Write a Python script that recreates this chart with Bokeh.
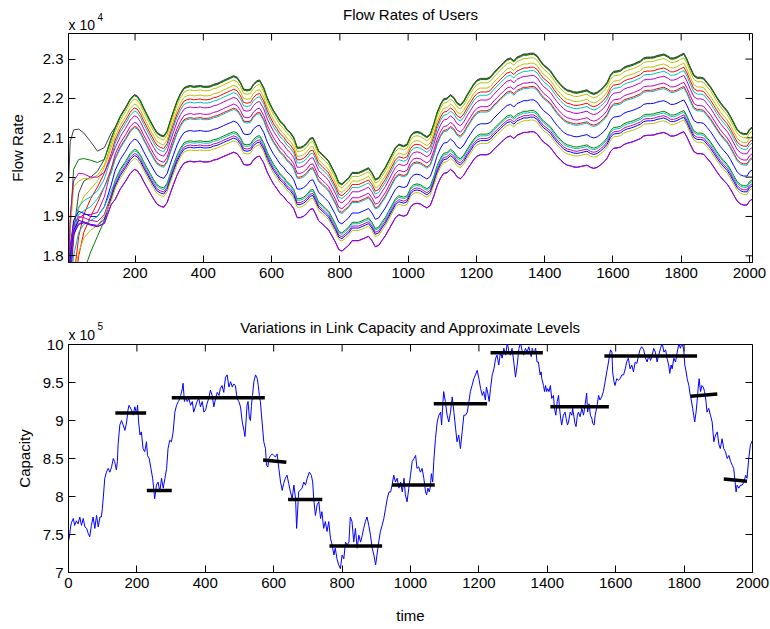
from bokeh.plotting import figure
from bokeh.layouts import column
from bokeh.models import Range1d, FixedTicker, Label, CustomJSTickFormatter
from bokeh.embed import file_html
from bokeh.resources import INLINE

FONT = "Liberation Sans"

# ---------------- Flow rates of users (units of 1e4) ----------------
# rate of the leading user once the start-up phase is over
profile_t = [
    142, 157, 172, 186, 198, 206, 216, 225, 235, 245,
    255, 264, 274, 284, 294, 303, 313, 323, 333, 343,
    352, 362, 372, 382, 391, 401, 411, 420, 430, 440,
    450, 459, 469, 479, 489, 499, 509, 518, 528, 538,
    547, 557, 565, 577, 587, 596, 606, 616, 625, 635,
    645, 655, 665, 675, 684, 694, 704, 713, 721, 728,
    738, 748, 758, 767, 777, 787, 797, 806, 816, 826,
    836, 845, 855, 865, 875, 884, 894, 904, 914, 923,
    933, 943, 953, 963, 973, 987, 997, 1007, 1016, 1026,
    1036, 1046, 1055, 1065, 1075, 1085, 1095, 1104, 1114, 1124,
    1134, 1143, 1153, 1163, 1173, 1183, 1192, 1202, 1212, 1222,
    1231, 1241, 1251, 1261, 1270, 1280, 1290, 1300, 1310, 1319,
    1329, 1339, 1349, 1358, 1368, 1378, 1388, 1397, 1407, 1417,
    1427, 1436, 1446, 1456, 1466, 1476, 1485, 1495, 1505, 1515,
    1524, 1534, 1544, 1554, 1563, 1573, 1583, 1593, 1602, 1612,
    1622, 1632, 1642, 1651, 1661, 1671, 1681, 1690, 1700, 1710,
    1720, 1729, 1739, 1749, 1759, 1769, 1778, 1788, 1798, 1808,
    1817, 1827, 1837, 1847, 1857, 1866, 1876, 1886, 1896, 1905,
    1915, 1925, 1935, 1944, 1954, 1964, 1974, 1983, 1993, 2000,
    2009,
]
profile_rate = [
    2.127, 2.156, 2.177, 2.199, 2.210, 2.207, 2.194, 2.177, 2.160, 2.143,
    2.127, 2.114, 2.108, 2.105, 2.118, 2.143, 2.169, 2.194, 2.213, 2.227,
    2.231, 2.233, 2.231, 2.232, 2.233, 2.231, 2.231, 2.232, 2.236, 2.238,
    2.242, 2.246, 2.250, 2.254, 2.258, 2.254, 2.241, 2.224, 2.222, 2.224,
    2.237, 2.245, 2.247, 2.228, 2.203, 2.186, 2.169, 2.156, 2.143, 2.135,
    2.122, 2.114, 2.101, 2.076, 2.076, 2.080, 2.088, 2.099, 2.101, 2.088,
    2.067, 2.059, 2.050, 2.042, 2.025, 2.008, 1.987, 1.983, 1.991, 1.999,
    2.012, 2.012, 2.012, 2.016, 2.020, 2.024, 2.012, 1.995, 1.999, 2.012,
    2.025, 2.042, 2.059, 2.076, 2.084, 2.080, 2.084, 2.105, 2.114, 2.116,
    2.114, 2.108, 2.103, 2.110, 2.135, 2.165, 2.186, 2.199, 2.201, 2.210,
    2.203, 2.190, 2.184, 2.194, 2.210, 2.224, 2.237, 2.247, 2.251, 2.251,
    2.251, 2.255, 2.266, 2.275, 2.283, 2.292, 2.300, 2.303, 2.296, 2.305,
    2.309, 2.313, 2.313, 2.315, 2.315, 2.309, 2.296, 2.286, 2.279, 2.271,
    2.258, 2.247, 2.237, 2.228, 2.222, 2.220, 2.217, 2.216, 2.218, 2.220,
    2.222, 2.216, 2.213, 2.216, 2.222, 2.230, 2.241, 2.260, 2.269, 2.270,
    2.272, 2.279, 2.283, 2.285, 2.288, 2.292, 2.296, 2.303, 2.305, 2.305,
    2.306, 2.309, 2.311, 2.313, 2.309, 2.303, 2.303, 2.306, 2.311, 2.315,
    2.300, 2.279, 2.260, 2.254, 2.254, 2.252, 2.241, 2.230, 2.216, 2.203,
    2.190, 2.179, 2.169, 2.156, 2.139, 2.122, 2.114, 2.111, 2.111, 2.122,
    2.128,
]

# each user's settled rate as a fraction of the leading user's rate
user_share = [1.0, 0.9993, 0.9986, 0.9949, 0.9890, 0.9846, 0.9809, 0.9755, 0.9680,
              0.9634, 0.9619, 0.9487, 0.9370, 0.9351, 0.9322, 0.9297, 0.9266,
              0.9139, 0.9136]
user_colors = ["#404040", "#404040", "#008000", "#bfbf00", "#bfbf00", "#ff0000",
               "#00bfbf", "#bf00bf", "#bf00bf", "#ff0000", "#00bfbf", "#0000ff",
               "#008000", "#00bfbf", "#bf00bf", "#0000ff", "#bfbf00", "#0000ff",
               "#bf00bf"]

# start-up transients of every user
early_t = [5, 10, 20, 35, 50, 70, 90, 110, 130]
user_early = [
    [1.98, 2.09, 2.12, 2.122, 2.112, 2.09, 2.066, 2.075, 2.112],
    [1.60, 1.72, 1.86, 1.96, 1.99, 2.00, 2.015, 2.045, 2.10],
    [1.74, 1.88, 2.02, 2.045, 2.047, 2.043, 2.037, 2.045, 2.095],
    [1.72, 1.86, 1.975, 1.99, 1.997, 1.995, 2.005, 2.03, 2.085],
    [1.58, 1.70, 1.84, 1.92, 1.95, 1.97, 1.99, 2.025, 2.075],
    [1.52, 1.62, 1.74, 1.85, 1.905, 1.945, 1.975, 2.01, 2.06],
    [1.70, 1.80, 1.885, 1.925, 1.94, 1.95, 1.965, 1.995, 2.05],
    [1.76, 1.90, 1.99, 2.01, 2.008, 2.00, 2.00, 2.012, 2.05],
    [1.62, 1.76, 1.85, 1.895, 1.905, 1.905, 1.91, 1.95, 2.02],
    [1.48, 1.58, 1.71, 1.80, 1.86, 1.90, 1.935, 1.975, 2.02],
    [1.66, 1.78, 1.865, 1.905, 1.915, 1.925, 1.945, 1.975, 2.01],
    [1.70, 1.82, 1.89, 1.913, 1.908, 1.90, 1.90, 1.925, 1.98],
    [1.45, 1.52, 1.60, 1.69, 1.76, 1.81, 1.85, 1.89, 1.95],
    [1.58, 1.70, 1.80, 1.86, 1.88, 1.89, 1.90, 1.925, 1.965],
    [1.70, 1.82, 1.88, 1.90, 1.897, 1.89, 1.887, 1.905, 1.955],
    [1.64, 1.79, 1.865, 1.89, 1.886, 1.88, 1.877, 1.893, 1.945],
    [1.52, 1.63, 1.74, 1.81, 1.845, 1.865, 1.878, 1.90, 1.94],
    [1.58, 1.74, 1.855, 1.88, 1.884, 1.878, 1.874, 1.882, 1.93],
    [1.60, 1.75, 1.86, 1.882, 1.886, 1.879, 1.875, 1.883, 1.931],
]

flow_xticks = [200, 400, 600, 800, 1000, 1200, 1400, 1600, 1800, 2000]
flow_yticks = [1.8, 1.9, 2.0, 2.1, 2.2, 2.3]

# ---------------- Link capacity (units of 1e5) ----------------
cap_t = [
    0, 2, 6, 9, 14, 18, 23, 28, 33, 38,
    43, 48, 53, 58, 62, 67, 72, 77, 82, 87,
    92, 96, 99, 103, 106, 111, 116, 121, 126, 131,
    135, 140, 143, 145, 150, 155, 160, 165, 170, 174,
    177, 184, 189, 194, 199, 202, 205, 209, 213, 218,
    223, 228, 231, 236, 241, 246, 250, 252, 257, 262,
    267, 272, 277, 282, 287, 291, 296, 301, 306, 311,
    316, 321, 326,
    328, 333, 335, 339, 342, 347, 352, 357, 362, 366,
    371, 376, 381, 386, 391, 396, 401, 405, 410, 415,
    420, 425, 430, 435, 440, 444, 449, 454, 459, 464,
    469, 474, 479, 483, 488, 493, 498, 503, 508, 513,
    516, 519, 522, 525, 529, 532, 535, 538, 542, 547,
    552, 555, 558, 561, 566, 571, 576, 579, 583, 586,
    591, 596, 600, 605, 610, 615, 620, 625, 629, 634,
    639, 644, 649, 654, 659, 664,
    667, 673, 683, 688, 693, 698, 704, 710, 714, 717,
    722, 727, 732, 737, 741, 746, 751, 756, 761, 766,
    771, 776, 780, 785, 790, 795, 800, 805, 810, 815,
    820, 824, 829, 834, 839, 844, 849, 854, 859, 863,
    868, 873, 878, 883, 888, 893, 898, 902, 907, 912,
    917, 922, 927, 932, 937, 942, 946, 951, 956, 961,
    966, 971, 976, 981, 985, 990, 995,
    1000, 1005, 1010, 1015, 1019, 1024, 1029, 1034, 1039, 1044,
    1047, 1051, 1055, 1058, 1061, 1065, 1068, 1073, 1078, 1083,
    1088, 1091, 1095, 1097, 1102, 1107, 1112, 1117, 1122, 1127,
    1132, 1136, 1141, 1146, 1151, 1156, 1161, 1166, 1171, 1175,
    1180, 1185, 1190, 1195, 1200, 1205, 1210, 1214, 1219, 1222,
    1226, 1230, 1234, 1239, 1244, 1249, 1253, 1258, 1263, 1268,
    1273, 1278, 1283, 1288, 1292, 1297, 1302, 1307, 1312, 1317,
    1322, 1327, 1331, 1336, 1341, 1346,
    1353, 1356, 1361, 1366, 1370, 1374, 1379, 1382, 1384, 1389,
    1392, 1395, 1398, 1401, 1405, 1409, 1413, 1418, 1421, 1425,
    1429, 1433, 1435, 1439, 1442, 1447, 1452, 1455, 1459, 1462,
    1467, 1472, 1474, 1478, 1481, 1484, 1488, 1491, 1496, 1501,
    1506, 1511, 1515, 1518, 1522, 1526, 1530, 1533, 1537, 1540,
    1545, 1550, 1554, 1559, 1564, 1569, 1574, 1579, 1582, 1585,
    1589, 1591, 1595, 1598, 1603, 1608, 1613, 1618, 1623, 1628,
    1632, 1637, 1642, 1647, 1652, 1657, 1662, 1667, 1671, 1676,
    1682, 1687, 1692, 1697, 1702, 1707, 1711, 1716, 1721, 1726,
    1731, 1736, 1741, 1746, 1750, 1755, 1758, 1762, 1765, 1770,
    1775, 1780, 1785, 1789, 1794, 1799, 1802, 1806, 1809, 1814,
    1817, 1821, 1825, 1828, 1831, 1835, 1838, 1841, 1844, 1848,
    1852, 1856, 1860, 1864, 1867, 1872, 1877, 1882, 1887, 1892,
    1897, 1902, 1906, 1911, 1916, 1921, 1926, 1931, 1936, 1941,
    1945, 1948, 1952, 1955, 1960, 1965, 1970, 1975, 1980, 1984,
    1989, 1994, 2000,
]
cap_val = [
    7.42, 7.45, 7.60, 7.66, 7.71, 7.62, 7.68, 7.64, 7.73, 7.62,
    7.71, 7.60, 7.58, 7.51, 7.47, 7.62, 7.73, 7.58, 7.75, 7.60,
    7.73, 7.73, 7.84, 8.06, 8.24, 8.32, 8.37, 8.32, 8.39, 8.50,
    8.46, 8.35, 8.46, 8.68, 8.94, 9.00, 8.94, 8.87, 8.98, 9.14,
    9.20, 9.14, 9.07, 9.18, 9.09, 9.20, 8.98, 8.81, 8.85, 8.63,
    8.59, 8.72, 8.54, 8.50, 8.37, 8.24, 8.06, 7.97, 8.15, 8.19,
    8.06, 8.24, 8.11, 8.24, 8.37, 8.63, 8.74, 8.72, 8.85, 9.11,
    9.20, 9.25, 9.29,
    9.33, 9.42, 9.49, 9.25, 9.31, 9.25, 9.29, 9.20, 9.25, 9.11,
    9.18, 9.25, 9.29, 9.18, 9.25, 9.11, 9.14, 9.22, 9.29, 9.40,
    9.33, 9.18, 9.29, 9.37, 9.33, 9.42, 9.46, 9.37, 9.57, 9.60,
    9.44, 9.51, 9.44, 9.48, 9.46, 9.29, 9.25, 9.18, 8.98, 8.87,
    8.79, 8.98, 9.20, 9.25, 9.03, 9.00, 9.20, 9.33, 9.51, 9.60,
    9.55, 9.46, 9.33, 9.25, 8.98, 8.72, 8.63, 8.41, 8.39, 8.50,
    8.54, 8.56, 8.54, 8.52, 8.56, 8.37, 8.19, 8.08, 8.17, 8.24,
    8.28, 8.17, 8.06, 7.97, 8.15, 7.97,
    7.58, 8.06, 8.11, 8.19, 8.15, 8.24, 8.32, 8.28, 8.19, 7.97,
    7.75, 7.89, 7.93, 7.71, 7.80, 7.58, 7.67, 7.54, 7.67, 7.45,
    7.36, 7.23, 7.32, 7.18, 7.10, 7.05, 7.23, 7.18, 7.40, 7.36,
    7.40, 7.73, 7.67, 7.40, 7.58, 7.32, 7.49, 7.40, 7.49, 7.58,
    7.67, 7.73, 7.62, 7.49, 7.32, 7.23, 7.10, 7.23, 7.40, 7.54,
    7.62, 7.71, 7.84, 7.97, 8.06, 8.06, 8.15, 8.28, 8.19, 8.24,
    8.11, 8.19, 8.06, 8.24, 8.02, 7.93, 8.11,
    8.28, 8.46, 8.50, 8.54, 8.37, 8.39, 8.32, 8.37, 8.24, 8.06,
    8.02, 8.11, 8.06, 8.13, 8.30, 8.19, 8.46, 8.76, 8.98, 9.07,
    9.11, 8.94, 9.25, 9.38, 9.25, 9.07, 8.98, 9.11, 9.31, 9.11,
    8.89, 8.72, 8.81, 8.63, 8.85, 9.07, 9.07, 9.11, 9.25, 9.38,
    9.46, 9.55, 9.60, 9.66, 9.55, 9.42, 9.33, 9.38, 9.27, 9.44,
    9.36, 9.25, 9.42, 9.60, 9.68, 9.82, 9.86, 9.73, 9.90, 9.82,
    9.95, 9.86, 10.02, 9.90, 9.86, 9.95, 9.77, 9.57, 9.73, 9.95,
    10.02, 9.90, 9.86, 9.95, 9.90, 9.97,
    9.84, 9.95, 9.88, 9.95, 9.77, 9.77, 9.60, 9.64, 9.55, 9.46,
    9.38, 9.46, 9.38, 9.42, 9.38, 9.46, 9.29, 9.33, 9.16, 9.07,
    9.25, 9.33, 9.20, 9.03, 8.94, 9.07, 9.11, 9.03, 8.94, 8.98,
    9.11, 9.07, 9.16, 9.05, 8.96, 8.92, 9.07, 9.11, 9.05, 9.16,
    9.07, 9.22, 9.36, 9.11, 9.22, 9.07, 9.03, 8.96, 8.94, 9.07,
    9.18, 9.33, 9.27, 9.31, 9.38, 9.51, 9.64, 9.77, 9.86, 9.93,
    9.90, 9.64, 9.51, 9.46, 9.55, 9.53, 9.55, 9.60, 9.60, 9.68,
    9.77, 9.82, 9.68, 9.73, 9.64, 9.77, 9.75, 9.86, 9.93, 9.97,
    9.93, 9.82, 9.77, 9.86, 9.79, 9.86, 9.95, 9.90, 9.77, 9.86,
    9.95, 10.02, 9.90, 9.93, 9.82, 9.73, 9.62, 9.73, 9.68, 9.82,
    9.77, 9.90, 10.02, 9.95, 10.02, 9.93, 9.73, 9.64, 9.55, 9.46,
    9.36, 9.27, 9.16, 9.07, 8.98, 9.11, 9.25, 9.42, 9.55, 9.38,
    9.46, 9.44, 9.38, 9.25, 9.11, 9.16, 9.07, 8.98, 8.72, 8.81,
    8.85, 8.68, 8.63, 8.76, 8.63, 8.59, 8.50, 8.54, 8.46, 8.41,
    8.37, 8.24, 8.06, 8.15, 8.11, 8.15, 8.15, 8.19, 8.28, 8.24,
    8.50, 8.68, 8.74,
]

# approximate capacity levels: start/end time and start/end level
level_t0 = [137, 229, 302, 569, 642, 763, 946, 1068, 1234, 1409, 1567, 1819, 1916]
level_t1 = [227, 302, 574, 637, 742, 917, 1071, 1224, 1387, 1580, 1838, 1897, 1984]
level_v0 = [9.10, 8.08, 9.30, 8.48, 7.96, 7.35, 8.15, 9.22, 9.89, 9.18, 9.85, 9.32, 8.23]
level_v1 = [9.10, 8.08, 9.30, 8.45, 7.96, 7.35, 8.15, 9.22, 9.89, 9.18, 9.85, 9.35, 8.20]

cap_xticks = [0, 200, 400, 600, 800, 1000, 1200, 1400, 1600, 1800, 2000]
cap_yticks = [7.0, 7.5, 8.0, 8.5, 9.0, 9.5, 10.0]

FRAME_W = 684
TICK_PX = 7


def style_box(p, xticks, yticks, frame_h):
    """Boxed axes with inward ticks on all four sides."""
    p.grid.visible = False
    p.outline_line_color = "black"
    p.outline_line_width = 1
    p.xaxis.ticker = FixedTicker(ticks=xticks)
    p.yaxis.ticker = FixedTicker(ticks=yticks)
    p.yaxis.formatter = CustomJSTickFormatter(
        code="return String(Math.round(tick * 100) / 100);")
    for ax in (p.xaxis[0], p.yaxis[0]):
        ax.major_tick_in = TICK_PX
        ax.major_tick_out = 0
        ax.minor_tick_line_color = None
        ax.axis_line_color = "black"
        ax.major_tick_line_color = "black"
        ax.major_label_text_font = FONT
        ax.major_label_text_font_size = "15px"
        ax.major_label_text_color = "black"
        ax.major_label_standoff = 5
        ax.axis_label_text_font = FONT
        ax.axis_label_text_font_size = "15px"
        ax.axis_label_text_font_style = "normal"
        ax.axis_label_text_color = "black"
    # matching inward ticks along the top and right edges of the box
    x0, x1 = p.x_range.start, p.x_range.end
    y0, y1 = p.y_range.start, p.y_range.end
    dy = TICK_PX * (y1 - y0) / frame_h
    dx = TICK_PX * (x1 - x0) / FRAME_W
    p.segment(x0=xticks, x1=xticks, y0=[y1] * len(xticks), y1=[y1 - dy] * len(xticks),
              line_color="black", line_width=1)
    p.segment(x0=[x1] * len(yticks), x1=[x1 - dx] * len(yticks), y0=yticks, y1=yticks,
              line_color="black", line_width=1)


def header(p, title, title_x, title_y, exp_x, exp_y, pow_x, pow_y, power):
    """Panel title plus the 'x 10^n' scale note at the top left."""
    p.add_layout(Label(x=title_x, y=title_y, text=title, text_font=FONT,
                       text_font_size="15px", text_color="black",
                       text_align="center", text_baseline="middle"), "above")
    p.add_layout(Label(x=exp_x, y=exp_y, text="x 10", text_font=FONT,
                       text_font_size="14px", text_color="black",
                       text_baseline="middle"), "above")
    p.add_layout(Label(x=pow_x, y=pow_y, text=power, text_font=FONT,
                       text_font_size="10px", text_color="black",
                       text_baseline="middle"), "right")


# ---------------- top panel ----------------
p1 = figure(width=770, height=300,
            x_range=Range1d(5, 2009), y_range=Range1d(1.783, 2.365),
            output_backend="svg", toolbar_location=None,
            min_border_left=68, min_border_right=18,
            min_border_top=33, min_border_bottom=38)
style_box(p1, flow_xticks, flow_yticks, 229)
p1.yaxis[0].axis_label = "Flow Rate"
p1.yaxis[0].axis_label_standoff = 14

for share, color, start in zip(user_share, user_colors, user_early):
    xs = early_t + profile_t
    ys = start + [share * r for r in profile_rate]
    p1.line(xs, ys, line_color=color, line_width=1)

header(p1, "Flow Rates of Users", 1007, 2.4130, 5, 2.3876, 90, 2.4082, "4")

# ---------------- bottom panel ----------------
p2 = figure(width=770, height=329,
            x_range=Range1d(0, 2000), y_range=Range1d(7, 10),
            output_backend="svg", toolbar_location=None,
            min_border_left=68, min_border_right=18,
            min_border_top=44, min_border_bottom=57)
style_box(p2, cap_xticks, cap_yticks, 228)
p2.yaxis[0].axis_label = "Capacity"
p2.yaxis[0].axis_label_standoff = 7
p2.xaxis[0].axis_label = "time"
p2.xaxis[0].axis_label_standoff = 16

p2.line(cap_t, cap_val, line_color="#0000ff", line_width=1)
p2.segment(x0=level_t0, y0=level_v0, x1=level_t1, y1=level_v1,
           line_color="black", line_width=3.5)

header(p2, "Variations in Link Capacity and Approximate Levels",
       1000, 10.221, 0, 10.122, 85, 10.241, "5")

layout = column(p1, p2)
open("out.html", "w").write(file_html(layout, INLINE))
